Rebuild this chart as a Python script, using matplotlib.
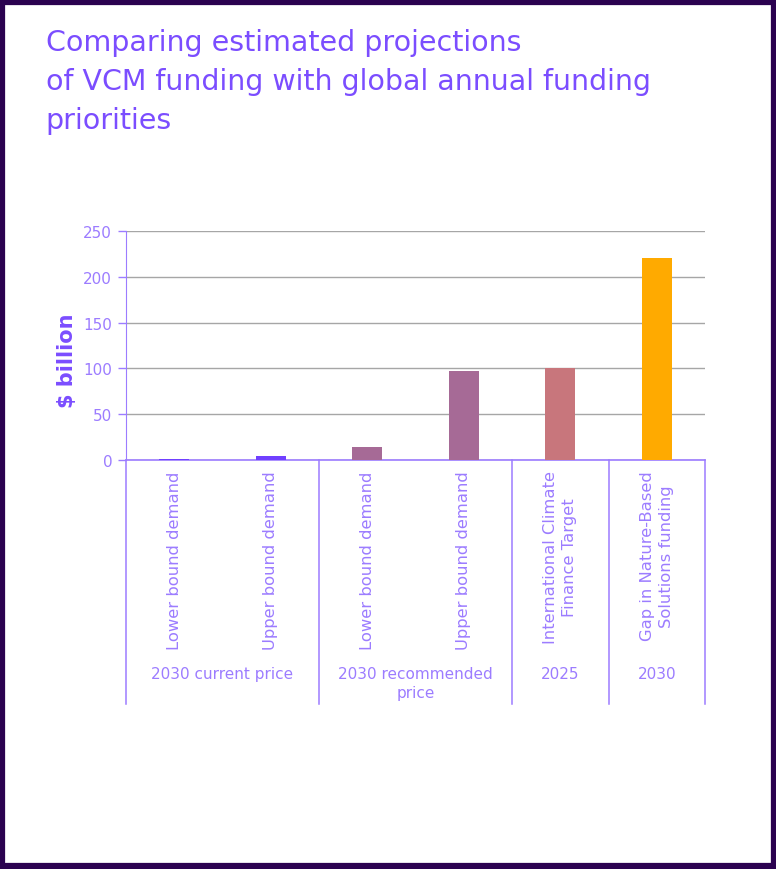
import matplotlib.pyplot as plt
from matplotlib.patches import Rectangle
import matplotlib.transforms as mtransforms

# data
categories = ["Lower bound demand", "Upper bound demand",
              "Lower bound demand", "Upper bound demand",
              "International Climate\nFinance Target",
              "Gap in Nature-Based\nSolutions funding"]
values = [1, 4, 14, 97, 100, 221]
groups = ["2030 current price", "2030 recommended\nprice", "2025", "2030"]
group_spans = [(0, 1), (2, 3), (4, 4), (5, 5)]
bar_colors = ["#7040FF", "#7040FF", "#A66A96", "#A66A96", "#C8767C", "#FFAA00"]

PURPLE = "#7B4DFF"
LIGHT_PURPLE = "#9C7CFF"
FRAME = "#2B0250"

plt.rcParams['font.family'] = ['DejaVu Sans']

fig = plt.figure(figsize=(7.76, 8.70), dpi=100)
fig.patch.set_facecolor('white')

# dark frame around the whole picture
fig.patches.append(Rectangle((0.003, 0.003), 0.994, 0.994, transform=fig.transFigure,
                             fill=False, edgecolor=FRAME, linewidth=4.5, zorder=10))

fig.text(0.059, 0.967, "Comparing estimated projections\nof VCM funding with global annual funding\npriorities",
         ha='left', va='top', fontsize=20.5, color=PURPLE, linespacing=1.5)

ax = fig.add_axes([0.1624, 0.4701, 0.7461, 0.2632])
x = list(range(len(values)))
ax.bar(x, values, width=0.31, color=bar_colors, zorder=3)
ax.set_xlim(-0.5, len(values) - 0.5)
ax.set_ylim(0, 250)
ax.set_yticks(range(0, 251, 50))
ax.set_xticks([])
ax.yaxis.grid(True, color='#A6A6A6', linewidth=1.0, zorder=0)
ax.set_axisbelow(True)

for s in ['top', 'right']:
    ax.spines[s].set_visible(False)
ax.spines['left'].set_color(LIGHT_PURPLE)
ax.spines['bottom'].set_color(LIGHT_PURPLE)
ax.spines['bottom'].set_linewidth(1.2)
ax.tick_params(axis='y', colors=LIGHT_PURPLE, labelcolor=LIGHT_PURPLE,
               labelsize=11, length=6, width=1, pad=4)
ax.set_ylabel("$ billion", color=PURPLE, fontsize=15, fontweight='bold')
ax.yaxis.set_label_coords(-0.085, 0.437)

trans = mtransforms.blended_transform_factory(ax.transData, ax.transAxes)

# category labels (rotated)
for xi, lab in zip(x, categories):
    ax.text(xi, -0.045, lab, transform=trans, rotation=90, ha='center', va='top',
            multialignment='center', fontsize=11.8, color=LIGHT_PURPLE, linespacing=1.3)

# group separators and labels
seps = [-0.5, 1.5, 3.5, 4.5, 5.5]
for sx in seps:
    ax.plot([sx, sx], [0, -1.066], transform=trans, color=LIGHT_PURPLE,
            linewidth=1.1, clip_on=False)
for g, (a, b) in zip(groups, group_spans):
    ax.text((a + b) / 2, -0.898, g, transform=trans, ha='center', va='top',
            fontsize=11, color=LIGHT_PURPLE, linespacing=1.4)

fig.savefig('out.png', dpi=100)
